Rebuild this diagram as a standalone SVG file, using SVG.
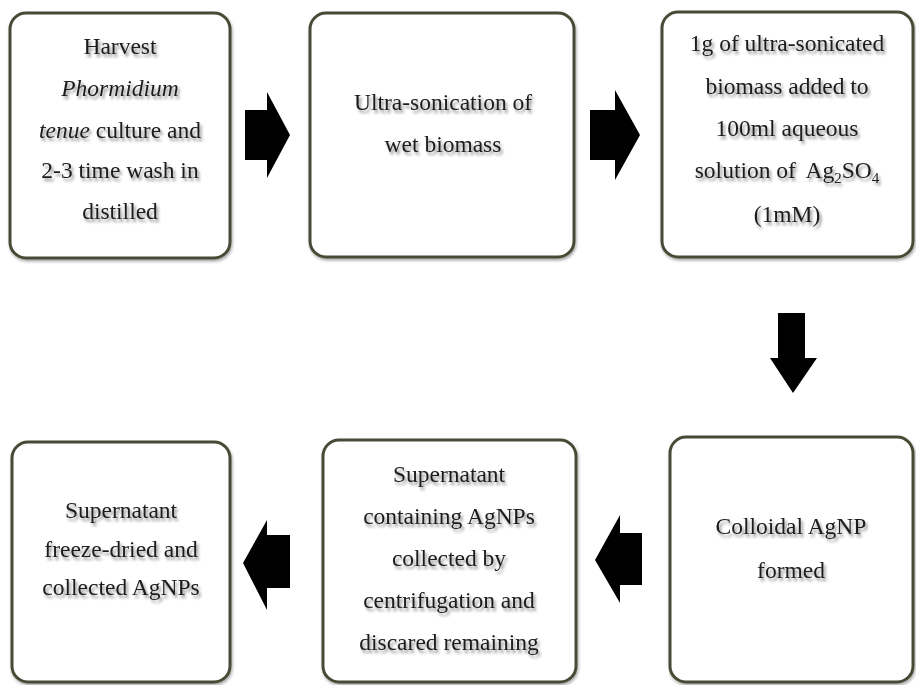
<svg xmlns="http://www.w3.org/2000/svg" width="916" height="685" viewBox="0 0 916 685">
  <defs>
    <filter id="txtShadow" x="-10%" y="-30%" width="120%" height="160%">
      <feGaussianBlur in="SourceAlpha" stdDeviation="1.6"/>
      <feOffset dx="1.5" dy="2.5" result="b"/>
      <feComponentTransfer><feFuncA type="linear" slope="0.45"/></feComponentTransfer>
      <feMerge><feMergeNode/><feMergeNode in="SourceGraphic"/></feMerge>
    </filter>
    <filter id="boxShadow" x="-5%" y="-5%" width="110%" height="110%">
      <feGaussianBlur in="SourceAlpha" stdDeviation="1.5"/>
      <feOffset dx="1" dy="2"/>
      <feComponentTransfer><feFuncA type="linear" slope="0.35"/></feComponentTransfer>
      <feMerge><feMergeNode/><feMergeNode in="SourceGraphic"/></feMerge>
    </filter>
  </defs>
  <style>
    .box { fill: #ffffff; stroke: #4a4a36; stroke-width: 3; }
    .lbl { font-family: "Liberation Serif", "Times New Roman", serif; font-size: 23.5px; fill: #1c1c1c; text-anchor: middle; }
    .arrow { fill: #000000; }
    .sub { font-size: 15px; }
  </style>
  <rect width="916" height="685" fill="#ffffff"/>

  <g id="connectors">
    <polygon class="arrow" points="245,110 267,110 267,92 290,135 267,178 267,160 245,160"/>
    <polygon class="arrow" points="590,110 615,110 615,90 640,135 615,180 615,160 590,160"/>
    <polygon class="arrow" points="778,313 805,313 805,358 817,358 793,393 770,358 778,358"/>
    <polygon class="arrow" points="642,533 620,533 620,515 595,560 620,603 620,585 642,585"/>
    <polygon class="arrow" points="290,535 267,535 267,520 243,563 267,610 267,588 290,588"/>
  </g>

  <g id="harvest">
    <rect class="box" x="10" y="13" width="220" height="245" rx="16" filter="url(#boxShadow)"/>
    <g filter="url(#txtShadow)">
      <text class="lbl" x="120" y="54">Harvest</text>
      <text class="lbl" x="120" y="96" font-style="italic">Phormidium</text>
      <text class="lbl" x="120" y="138"><tspan font-style="italic">tenue</tspan> culture and</text>
      <text class="lbl" x="120" y="178">2-3 time wash in</text>
      <text class="lbl" x="120" y="219">distilled</text>
    </g>
  </g>

  <g id="sonication">
    <rect class="box" x="310" y="13" width="264" height="244" rx="16" filter="url(#boxShadow)"/>
    <g filter="url(#txtShadow)">
      <text class="lbl" x="443" y="110">Ultra-sonication of</text>
      <text class="lbl" x="443" y="152">wet biomass</text>
    </g>
  </g>

  <g id="silver-sulfate">
    <rect class="box" x="662" y="12" width="251" height="245" rx="16" filter="url(#boxShadow)"/>
    <g filter="url(#txtShadow)">
      <text class="lbl" x="787" y="51">1g of ultra-sonicated</text>
      <text class="lbl" x="787" y="94">biomass added to</text>
      <text class="lbl" x="787" y="136">100ml aqueous</text>
      <text class="lbl" x="787" y="178">solution of <tspan dx="5">Ag</tspan><tspan class="sub" dy="5">2</tspan><tspan dy="-5">SO</tspan><tspan class="sub" dy="5">4</tspan></text>
      <text class="lbl" x="787" y="222">(1mM)</text>
    </g>
  </g>

  <g id="colloid">
    <rect class="box" x="670" y="437" width="243" height="245" rx="16" filter="url(#boxShadow)"/>
    <g filter="url(#txtShadow)">
      <text class="lbl" x="791" y="534">Colloidal AgNP</text>
      <text class="lbl" x="791" y="578">formed</text>
    </g>
  </g>

  <g id="centrifuge">
    <rect class="box" x="323" y="440" width="253" height="242" rx="16" filter="url(#boxShadow)"/>
    <g filter="url(#txtShadow)">
      <text class="lbl" x="449" y="482">Supernatant</text>
      <text class="lbl" x="449" y="524">containing AgNPs</text>
      <text class="lbl" x="449" y="566">collected by</text>
      <text class="lbl" x="449" y="608">centrifugation and</text>
      <text class="lbl" x="449" y="650">discared remaining</text>
    </g>
  </g>

  <g id="freeze-dry">
    <rect class="box" x="12" y="442" width="218" height="240" rx="16" filter="url(#boxShadow)"/>
    <g filter="url(#txtShadow)">
      <text class="lbl" x="121" y="518">Supernatant</text>
      <text class="lbl" x="121" y="557">freeze-dried and</text>
      <text class="lbl" x="121" y="595">collected AgNPs</text>
    </g>
  </g>
</svg>
